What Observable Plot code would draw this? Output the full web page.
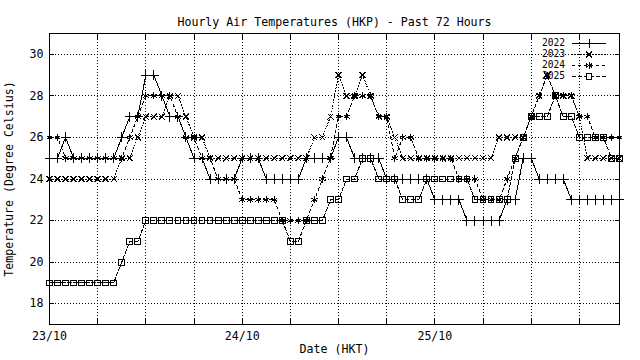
<!DOCTYPE html>
<html><head><meta charset="utf-8">
<script src="https://cdn.jsdelivr.net/npm/d3@7"></script>
<script src="https://cdn.jsdelivr.net/npm/@observablehq/plot@0.6"></script>
<style>
html,body{margin:0;padding:0;background:#fff;}
</style>
</head><body>
<div id="chart"></div>
<script>
// hourly index, 23/10 00:00 HKT .. 25/10 23:00 HKT
const hours = d3.range(72);
const t2022 = [25,25,26,25,25,25,25,25,25,26, 27,27,29,29,28,27,27,26,25,25,
               24,24,24,24,25,25,25,24,24,24, 24,24,25,25,25,25,26,26,25,25,
               25,25,24,24,24,24,24,24,23,23, 23,23,22,22,22,22,22,23,23,25,
               25,24,24,24,24,23,23,23,23,23, 23,23];
const t2023 = [24,24,24,24,24,24,24,24,24,25, 25,26,27,27,27,28,28,27,26,26,
               25,25,25,25,25,25,25,25,25,25, 25,25,25,26,26,27,29,28,28,29,
               28,27,27,26,25,25,25,25,25,25, 25,25,25,25,25,25,26,26,26,26,
               27,28,29,28,28,28,27,25,25,25, 25,25];
const t2024 = [26,26,25,25,25,25,25,25,25,25, 26,27,28,28,28,28,27,26,26,25,
               25,24,24,24,23,23,23,23,23,22, 22,22,22,23,24,25,27,27,28,28,
               28,27,27,25,26,26,25,25,25,25, 25,24,24,24,23,23,23,24,25,26,
               27,28,29,28,28,28,27,27,26,26, 26,26];
const t2025 = [19,19,19,19,19,19,19,19,19,20, 21,21,22,22,22,22,22,22,22,22,
               22,22,22,22,22,22,22,22,22,22, 21,21,22,22,22,23,23,24,24,25,
               25,24,24,24,23,23,23,24,24,24, 24,24,24,23,23,23,23,23,25,26,
               27,27,27,28,27,27,26,26,26,26, 25,25];
const seriesNames = ["2022","2023","2024","2025"];
const yTicks = [18,20,22,24,26,28,30];
const xGridHours = [0,6,12,18,24,30,36,42,48,54,60,66];
const dayTicks = [0,24,48];
const dayLabels = ["23/10","24/10","25/10"];
const titleText = "Hourly Air Temperatures (HKP) - Past 72 Hours";
const xLabel = "Date (HKT)";
const yLabel = "Temperature (Degree Celsius)";

const seriesValues = [t2022, t2023, t2024, t2025];
const styles = [
  {dash: null,  symbol: "plus",     r: 3.3},
  {dash: "1,2", symbol: "times",    r: 2.8},
  {dash: "3,3", symbol: "asterisk", r: 3.3},
  {dash: "4,2", symbol: "square",   r: 3.3}
];
const FONT = "DejaVu Sans Mono";
const FS = 11.6;
const LFS = 9.6;

const tables = seriesNames.map((name, k) =>
  seriesValues[k].map((v, i) => ({year: name, hour: hours[i], temp: v})));

const marks = [
  Plot.gridY(yTicks, {stroke: "#000", strokeOpacity: 1, strokeDasharray: "1,2"}),
  Plot.gridX(xGridHours, {stroke: "#000", strokeOpacity: 1, strokeDasharray: "1,2"}),
  Plot.axisY(yTicks, {anchor: "left", tickSize: 0, tickPadding: 6, label: null, fontSize: FS}),
  Plot.axisY(yTicks, {anchor: "left", tickSize: -5, tickFormat: () => "", label: null}),
  Plot.axisY(yTicks, {anchor: "right", tickSize: -5, tickFormat: () => "", label: null}),
  Plot.axisX(xGridHours, {anchor: "bottom", tickSize: -5, tickFormat: () => "", label: null}),
  Plot.axisX(xGridHours, {anchor: "top", tickSize: -5, tickFormat: () => "", label: null}),
  Plot.axisX(dayTicks, {anchor: "bottom", tickSize: 0, tickPadding: 7, label: null, fontSize: FS,
    tickFormat: d => dayLabels[dayTicks.indexOf(d)]}),
  Plot.frame({stroke: "#000"}),
];
tables.forEach((tab, k) => {
  marks.push(Plot.line(tab, {x: "hour", y: "temp", stroke: "#000", strokeWidth: 1,
    strokeDasharray: styles[k].dash}));
});
tables.forEach((tab, k) => {
  marks.push(Plot.dot(tab, {x: "hour", y: "temp", symbol: styles[k].symbol, r: styles[k].r,
    stroke: "#000", fill: "none", strokeWidth: 1}));
});
marks.push(
  Plot.text([titleText], {frameAnchor: "top", dy: -16, fontSize: FS, fill: "#000"}),
  Plot.text([xLabel], {frameAnchor: "bottom", dy: 28, fontSize: FS, fill: "#000"}),
  Plot.text([yLabel], {frameAnchor: "left", dx: -40, rotate: -90, textAnchor: "middle", fontSize: FS, fill: "#000"})
);

const svg = Plot.plot({
  width: 640, height: 360,
  marginLeft: 49, marginRight: 21, marginTop: 33, marginBottom: 36,
  x: {domain: [0, 71], axis: null},
  y: {domain: [17, 31], axis: null},
  style: {fontFamily: FONT, fontSize: FS + "px", color: "#000", background: "#fff", shapeRendering: "crispEdges"},
  marks
});
document.getElementById("chart").appendChild(svg);

// legend (top-right, inside the frame)
const symbolMap = {plus: d3.symbolPlus, times: d3.symbolTimes, asterisk: d3.symbolAsterisk, square: d3.symbolSquare};
const lg = d3.select(svg).append("g")
  .attr("font-family", FONT).attr("font-size", LFS).attr("fill", "#000");
seriesNames.forEach((name, k) => {
  const cy = Math.round(43 + k * 11);
  lg.append("text").attr("x", 565).attr("y", cy).attr("dy", "0.35em")
    .attr("text-anchor", "end").text(name);
  lg.append("line").attr("x1", 572).attr("x2", 606).attr("y1", cy + 0.5).attr("y2", cy + 0.5)
    .attr("stroke", "#000").attr("stroke-dasharray", styles[k].dash);
  const r = styles[k].r;
  lg.append("path").attr("transform", `translate(589,${cy + 0.5})`)
    .attr("d", d3.symbol(symbolMap[styles[k].symbol], Math.PI * r * r)())
    .attr("stroke", "#000").attr("fill", k === 3 ? "#fff" : "none");
});
</script>
</body></html>
